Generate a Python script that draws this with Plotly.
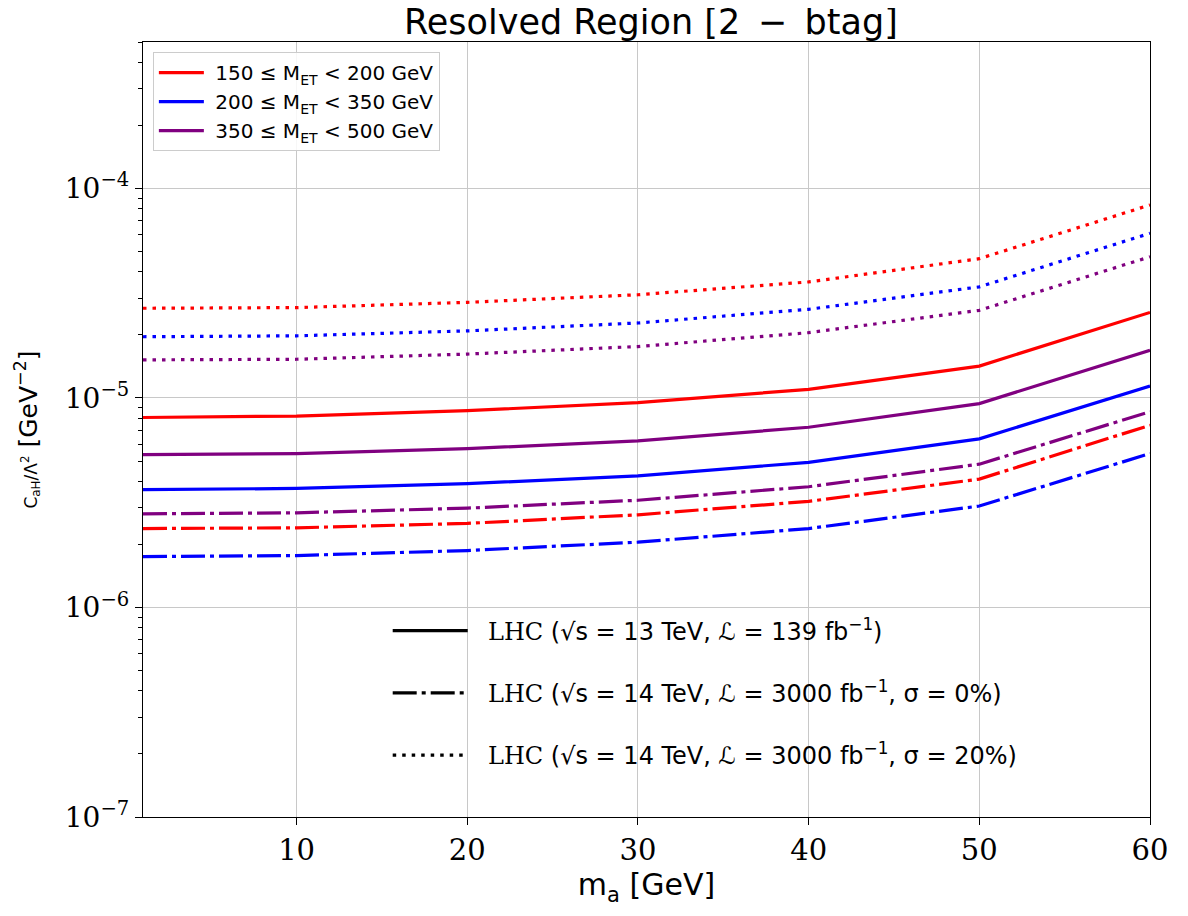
import plotly.graph_objects as go

ma = [1, 10, 20, 30, 40, 50, 60]

# 13 TeV, 139 fb^-1 (solid)
red_solid = [8.07e-6, 8.2e-6, 8.7e-6, 9.5e-6, 1.10e-5, 1.42e-5, 2.56e-5]
blue_solid = [3.65e-6, 3.7e-6, 3.9e-6, 4.25e-6, 4.93e-6, 6.38e-6, 1.14e-5]
purple_solid = [5.37e-6, 5.43e-6, 5.73e-6, 6.24e-6, 7.25e-6, 9.4e-6, 1.69e-5]

# 14 TeV, 3000 fb^-1, sigma=0% (dash-dot)
red_dashdot = [2.38e-6, 2.40e-6, 2.52e-6, 2.77e-6, 3.21e-6, 4.10e-6, 7.41e-6]
blue_dashdot = [1.75e-6, 1.77e-6, 1.87e-6, 2.05e-6, 2.38e-6, 3.05e-6, 5.43e-6]
purple_dashdot = [2.80e-6, 2.83e-6, 2.98e-6, 3.25e-6, 3.77e-6, 4.83e-6, 8.6e-6]

# 14 TeV, 3000 fb^-1, sigma=20% (dotted)
red_dot = [2.68e-5, 2.70e-5, 2.86e-5, 3.11e-5, 3.58e-5, 4.62e-5, 8.34e-5]
blue_dot = [1.96e-5, 1.98e-5, 2.09e-5, 2.28e-5, 2.65e-5, 3.39e-5, 6.11e-5]
purple_dot = [1.52e-5, 1.53e-5, 1.62e-5, 1.76e-5, 2.05e-5, 2.62e-5, 4.72e-5]

NB = "\u00a0"
met_labels = [NB + "150 ≤ M<sub>ET</sub> < 200 GeV",
              NB + "200 ≤ M<sub>ET</sub> < 350 GeV",
              NB + "350 ≤ M<sub>ET</sub> < 500 GeV"]
LHC = "<span style='font-family:DejaVu Serif'>LHC</span>"
scen_labels = [
    NB * 2 + LHC + " (√s = 13 TeV, ℒ = 139 fb<sup>−1</sup>)",
    NB * 2 + LHC + " (√s = 14 TeV, ℒ = 3000 fb<sup>−1</sup>, σ = 0%)",
    NB * 2 + LHC + " (√s = 14 TeV, ℒ = 3000 fb<sup>−1</sup>, σ = 20%)",
]

RED, BLUE, PURPLE = "#ff0000", "#0000ff", "#800080"
SOLID, DASHDOT, DOT = "solid", "24px,5px,4px,5px", "3.5px,6px"
LW = 3.2

series = [
    (red_solid, RED, SOLID), (blue_solid, BLUE, SOLID), (purple_solid, PURPLE, SOLID),
    (red_dashdot, RED, DASHDOT), (blue_dashdot, BLUE, DASHDOT), (purple_dashdot, PURPLE, DASHDOT),
    (red_dot, RED, DOT), (blue_dot, BLUE, DOT), (purple_dot, PURPLE, DOT),
]

fig = go.Figure()
for y, c, d in series:
    fig.add_trace(go.Scatter(x=ma, y=y, mode="lines", line=dict(color=c, width=LW, dash=d),
                             showlegend=False))

for lab, c in zip(met_labels, [RED, BLUE, PURPLE]):
    fig.add_trace(go.Scatter(x=[None], y=[None], mode="lines", name=lab,
                             line=dict(color=c, width=LW), legend="legend"))

for i, (lab, d) in enumerate(zip(scen_labels, [SOLID, DASHDOT, DOT])):
    fig.add_trace(go.Scatter(x=[None], y=[None], mode="lines", name=lab,
                             line=dict(color="black", width=LW, dash=d),
                             legend="legend2", legendgroup="g%d" % i))

decades = [1e-7, 1e-6, 1e-5, 1e-4]
minor_vals = [k * 10.0 ** e for e in range(-7, -3) for k in range(2, 10)]

fig.update_layout(
    width=1172, height=900,
    margin=dict(l=135, r=21, t=34, b=72),
    paper_bgcolor="white", plot_bgcolor="white",
    font=dict(family="DejaVu Sans", color="black"),
    title=dict(text="Resolved Region [2\u2002−\u2002btag]", x=0.5486, xref="container", xanchor="center",
               y=0.985, yanchor="middle", font=dict(size=35, family="DejaVu Sans")),
    xaxis=dict(range=[1, 60], tickvals=[10, 20, 30, 40, 50, 60],
               showgrid=True, gridcolor="#c8c8c8", gridwidth=1,
               ticks="outside", ticklen=7, tickcolor="black",
               showline=True, linecolor="black", linewidth=1.2, mirror=True,
               tickfont=dict(family="DejaVu Serif", size=29),
               title=dict(text="m<sub>a</sub> [GeV]", font=dict(family="DejaVu Sans", size=30),
                          standoff=8),
               zeroline=False),
    yaxis=dict(type="log", range=[-7, -3.301], tickvals=decades,
               ticktext=["10<sup>−7</sup>", "10<sup>−6</sup>", "10<sup>−5</sup>", "10<sup>−4</sup>"],
               showgrid=True, gridcolor="#c8c8c8", gridwidth=1,
               ticks="outside", ticklen=7, tickcolor="black",
               minor=dict(tickmode="array", tickvals=minor_vals, ticks="outside",
                          ticklen=4, tickcolor="black", showgrid=False),
               showline=True, linecolor="black", linewidth=1.2, mirror=True,
               tickfont=dict(family="DejaVu Serif", size=28),
               title=dict(text="<span style='font-size:17px'>C<sub>aH</sub>/Λ<sup>2</sup></span> [GeV<sup>−2</sup>]",
                          font=dict(family="DejaVu Sans", size=25), standoff=20),
               zeroline=False),
    legend=dict(x=0.0098, y=0.987, xanchor="left", yanchor="top",
                bgcolor="rgba(255,255,255,0.85)", bordercolor="#cccccc", borderwidth=1,
                font=dict(family="DejaVu Sans", size=20), itemwidth=45,
                tracegroupgap=0),
    legend2=dict(x=0.243, y=0.269, xanchor="left", yanchor="top",
                 bgcolor="rgba(0,0,0,0)", borderwidth=0,
                 font=dict(family="DejaVu Sans", size=24), itemwidth=75,
                 tracegroupgap=28),
)

fig.write_html("out.html")
